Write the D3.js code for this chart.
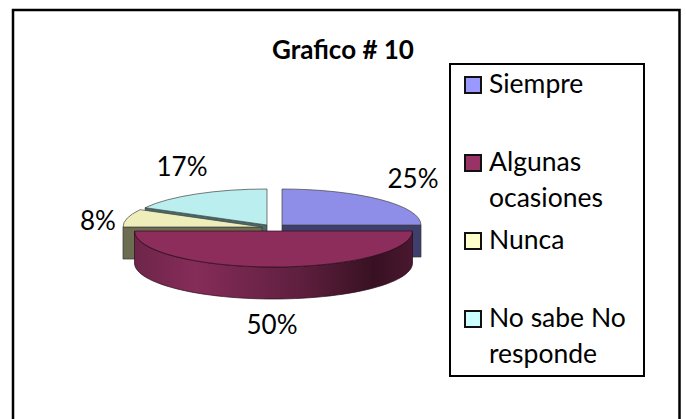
<!DOCTYPE html>
<html lang="en">
<head>
  <meta charset="UTF-8">
  <title>Grafico # 10</title>
  <style>
    html, body { margin: 0; padding: 0; background: white; overflow: hidden; }
    svg { display: block; }
    text { font-family: Lato, "Noto Sans", sans-serif; fill: #000; }
  </style>
</head>
<body>
  <svg id="svg" width="686" height="419"></svg>

  <script src="https://d3js.org/d3.v7.min.js"></script>
  <script>
    const title = 'Grafico # 10'
    const categories = ['Siempre', 'Algunas ocasiones', 'Nunca', 'No sabe No responde']
    const values = [25, 50, 8, 17]
    const labels = ['25%', '50%', '8%', '17%']
    const legendLines = [['Siempre'], ['Algunas', 'ocasiones'], ['Nunca'], ['No sabe No', 'responde']]
    const topColors = ['#8e8ee8', '#8c2d5c', '#eeeebb', '#bbeeee']
    const sideColors = ['#3f3f6e', '#5a1d3c', '#6d6d52', '#456a6a']
    const swatchColors = ['#9999ff', '#993366', '#ffffcc', '#ccffff']

    const svg = d3.select('#svg')
    const rx = 139, ry = 36, depth = 32

    // each slice is pulled out from its own centre
    const centres = [[282, 225], [273.5, 231], [262, 227], [267, 225]]
    const pieData = d3.pie().sort(null)(values)
    const arc = d3.arc().innerRadius(0).outerRadius(rx)

    const defs = svg.append('defs')
    const grad = defs.append('linearGradient').attr('id', 'wall')
    grad.append('stop').attr('offset', '0%').attr('stop-color', '#6e2549')
    grad.append('stop').attr('offset', '22%').attr('stop-color', '#852c59')
    grad.append('stop').attr('offset', '60%').attr('stop-color', '#5e1f3e')
    grad.append('stop').attr('offset', '86%').attr('stop-color', '#371122')
    grad.append('stop').attr('offset', '100%').attr('stop-color', '#4a1730')

    // outer frame, its bottom edge is cut off by the picture
    svg.append('rect').attr('x', 13).attr('y', 10).attr('width', 666.5).attr('height', 420)
      .attr('fill', 'white').attr('stroke', 'black').attr('stroke-width', 2.5)

    svg.append('text').attr('x', 343).attr('y', 59).attr('text-anchor', 'middle')
      .attr('font-size', 26).attr('font-weight', 700).text(title)

    const rim = (c, a) => [c[0] + rx * Math.sin(a), c[1] - ry * Math.cos(a)]

    // flat cut faces, back slices first
    function cutFace(i, a) {
      const c = centres[i], p = rim(c, a)
      return d3.line()([c, p, [p[0], p[1] + depth], [c[0], c[1] + depth]]) + 'Z'
    }
    const faces = [
      {i: 3, a: pieData[3].startAngle},
      {i: 2, a: pieData[2].startAngle},
      {i: 0, a: pieData[0].endAngle}
    ]

    svg.selectAll('.face').data(faces).enter().append('path').attr('class', 'face')
      .attr('d', d => cutFace(d.i, d.a))
      .attr('fill', d => sideColors[d.i])
      .attr('stroke', '#333').attr('stroke-width', 0.7)

    const topOf = i => svg.append('path')
      .attr('transform', `translate(${centres[i][0]},${centres[i][1]}) scale(1,${ry / rx})`)
      .attr('d', arc(pieData[i]))
      .attr('fill', topColors[i])
      .attr('stroke', '#444').attr('stroke-width', 0.7)
      .attr('vector-effect', 'non-scaling-stroke')

    topOf(3)
    topOf(2)
    topOf(0)

    // front wall of the big slice
    const c1 = centres[1]
    const wallTop = d3.range(0, 181, 3).map(t => {
      const a = t * Math.PI / 180
      return [c1[0] + rx * Math.cos(a), c1[1] + ry * Math.sin(a)]
    })
    const wallBottom = wallTop.map(p => [p[0], p[1] + depth]).reverse()
    svg.append('path').attr('d', d3.line()(wallTop.concat(wallBottom)) + 'Z')
      .attr('fill', 'url(#wall)').attr('stroke', '#2a0c1a').attr('stroke-width', 0.7)
    topOf(1).attr('stroke', '#2a0c1a')

    // data labels
    const labelPos = [[413, 188], [272, 334], [98, 230], [182, 176]]
    svg.selectAll('.lab').data(labels).enter().append('text').attr('class', 'lab')
      .attr('x', (d, i) => labelPos[i][0]).attr('y', (d, i) => labelPos[i][1])
      .attr('text-anchor', 'middle').attr('font-size', 26).text(d => d)

    // legend
    svg.append('rect').attr('x', 450).attr('y', 64).attr('width', 194).attr('height', 312)
      .attr('fill', 'white').attr('stroke', 'black').attr('stroke-width', 2)
    const legendY = [85, 163, 241, 319]
    const item = svg.selectAll('.item').data(categories).enter().append('g').attr('class', 'item')
      .attr('transform', (d, i) => `translate(465,${legendY[i]})`)
    item.append('rect').attr('y', -8).attr('width', 16).attr('height', 16)
      .attr('fill', (d, i) => swatchColors[i]).attr('stroke', '#111').attr('stroke-width', 2)
    item.each(function (d, i) {
      d3.select(this).selectAll('text').data(legendLines[i]).enter().append('text')
        .attr('x', 24).attr('y', (l, j) => 8 + j * 36)
        .attr('font-size', 26.5).text(l => l)
    })
  </script>
</body>
</html>
